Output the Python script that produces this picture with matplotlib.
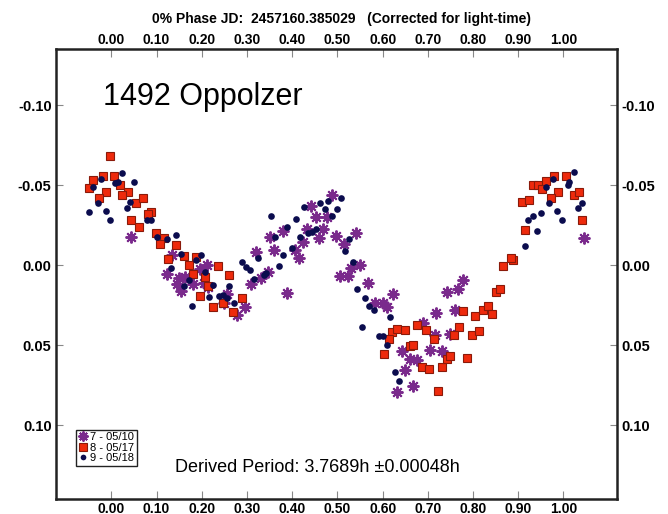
import matplotlib
matplotlib.use("Agg")
import matplotlib.pyplot as plt

plt.rcParams["font.family"] = ["Liberation Sans", "DejaVu Sans"]

# session 7 - 05/10 (phase, delta mag)
s7_phase = [0.043, 0.135, 0.123, 0.149, 0.163, 0.146, 0.153, 0.181, 0.196, 0.205,
            0.214, 0.255, 0.249, 0.295, 0.277, 0.310, 0.321, 0.211,
            0.487, 0.441, 0.452, 0.477, 0.432, 0.469, 0.379, 0.352, 0.497, 0.542,
            0.459, 0.424, 0.406, 0.515, 0.360, 0.415, 0.550, 0.531, 0.506, 0.523,
            0.347, 0.332, 0.388, 0.568, 0.623, 0.583, 0.601, 0.609, 0.719, 0.690,
            0.778, 0.767, 0.742, 0.760, 0.716, 0.749, 0.642, 0.660, 0.677, 0.705,
            0.731, 0.649, 0.668, 0.632, 1.045]
s7_mag = [-0.0173, -0.0063, 0.0056, 0.0083, 0.0073, 0.0119, 0.0163, 0.0119, 0.0021, 0.0111,
          0.0136, 0.0177, 0.0239, 0.0261, 0.0313, 0.0119, -0.0083, 0.0,
          -0.0438, -0.0369, -0.0302, -0.0302, -0.0223, -0.0223, -0.0214, -0.0173, -0.0183, -0.0198,
          -0.0167, -0.0146, -0.0098, -0.0131, -0.0094, -0.0042, 0.0, 0.0017, 0.0069, 0.0069,
          0.0042, 0.0083, 0.0173, 0.0114, 0.0177, 0.0236, 0.0236, 0.0261, 0.0298, 0.0364,
          0.0094, 0.0146, 0.0167, 0.0281, 0.0438, 0.0427, 0.0536, 0.0583, 0.0594, 0.0527,
          0.0536, 0.0656, 0.0756, 0.0792, -0.0171]

# session 8 - 05/17
s8_phase = [-0.002, -0.019, -0.040, -0.049, 0.006, 0.019, 0.036, 0.023, -0.012, -0.028,
            0.054, 0.070, 0.088, 0.080, 0.044, 0.062, 0.098, 0.117, 0.107, 0.143,
            0.125, 0.161, 0.171, 0.187, 0.180, 0.207, 0.236, 0.261, 0.213, 0.196,
            0.225, 0.288, 0.270, 0.247,
            0.867, 0.888, 0.851, 0.860, 0.778, 0.804, 0.823, 0.834, 0.841, 0.620,
            0.632, 0.649, 0.677, 0.696, 0.713, 0.614, 0.769, 0.758, 0.797, 0.813,
            0.660, 0.668, 0.604, 0.686, 0.703, 0.732, 0.742, 0.750, 0.786, 0.723,
            0.979, 1.006, 0.933, 0.944, 0.952, 0.961, 0.988, 0.972, 1.024, 1.035,
            0.908, 0.924, 1.042, 0.915, 0.885]
s8_mag = [-0.068, -0.056, -0.053, -0.048, -0.056, -0.050, -0.046, -0.044, -0.046, -0.042,
          -0.039, -0.042, -0.033, -0.032, -0.028, -0.024, -0.020, -0.017, -0.013, -0.0125,
          -0.0036, -0.0058, -0.0004, -0.005, 0.0052, 0.0073, 0.0004, 0.0063, 0.0129, 0.0192,
          0.0264, 0.0202, 0.0292, 0.0233,
          0.0004, -0.0031, 0.0167, 0.0146, 0.0286, 0.0317, 0.0281, 0.0256, 0.0306, 0.0417,
          0.040, 0.0406, 0.0375, 0.0406, 0.0463, 0.0463, 0.0389, 0.0438, 0.0438, 0.0413,
          0.0506, 0.0496, 0.0556, 0.0636, 0.0646, 0.0636, 0.0588, 0.0567, 0.0577, 0.0788,
          -0.0558, -0.0558, -0.050, -0.050, -0.0475, -0.0525, -0.0458, -0.0421, -0.0438, -0.0458,
          -0.0396, -0.0406, -0.0281, -0.0219, -0.0046]

# session 9 - 05/18
s9_phase = [0.023, 0.051, -0.022, -0.040, 0.008, 0.015, -0.030, -0.049, -0.012, -0.004,
            0.041, 0.034, 0.079, 0.087, 0.100, 0.123, 0.143, 0.153, 0.199, 0.188,
            0.132, 0.208, 0.171, 0.160, 0.225, 0.261, 0.217, 0.238, 0.246, 0.255,
            0.178, 0.272, 0.288, 0.298, 0.306, 0.316, 0.324,
            0.508, 0.480, 0.461, 0.472, 0.498, 0.426, 0.353, 0.408, 0.489, 0.452,
            0.443, 0.434, 0.388, 0.362, 0.417, 0.525, 0.517, 0.399, 0.380, 0.535,
            0.371, 0.343, 0.337, 0.544, 0.562, 0.570, 0.581, 0.616, 0.554,
            0.592, 0.600, 0.609, 0.627, 0.636,
            1.024, 0.977, 1.013, 1.010, 0.961, 0.969, 1.042, 1.031, 0.986, 0.950,
            0.932, 0.922, 0.996, 0.941, 0.915]
s9_mag = [-0.0577, -0.0521, -0.0536, -0.0489, -0.0511, -0.0521, -0.0389, -0.0333, -0.0338, -0.0281,
          -0.0396, -0.0358, -0.0281, -0.0281, -0.0173, -0.0161, -0.0188, -0.0069, -0.0063, -0.0031,
          0.0019, 0.0042, 0.0094, 0.0129, 0.0125, 0.0131, 0.0198, 0.0192, 0.0188, 0.0202,
          0.0254, 0.0236, -0.0021, 0.0011, 0.0031, 0.0089, -0.0048,
          -0.0421, -0.0402, -0.0389, -0.0348, -0.0348, -0.0361, -0.0308, -0.0288, -0.0308, -0.0223,
          -0.0208, -0.0198, -0.0239, -0.0177, -0.0177, -0.0161, -0.0089, -0.0108, -0.0061, -0.0021,
          0.0006, 0.0046, 0.0063, 0.015, 0.0202, 0.0256, 0.0281, 0.0323, 0.0386,
          0.0444, 0.0444, 0.0496, 0.0667, 0.0723,
          -0.0579, -0.0536, -0.0517, -0.050, -0.0489, -0.0389, -0.0389, -0.0358, -0.0339, -0.0329,
          -0.0308, -0.0281, -0.0281, -0.0213, -0.0119]

x_ticks = [0.0, 0.1, 0.2, 0.3, 0.4, 0.5, 0.6, 0.7, 0.8, 0.9, 1.0]
y_ticks = [-0.10, -0.05, 0.0, 0.05, 0.10]

fig = plt.figure(figsize=(6.68, 5.14), dpi=100)
ax = fig.add_axes([0.0834, 0.0292, 0.8407, 0.8745])

ax.plot(s7_phase, s7_mag, ls="none", marker=(8, 2, 0), ms=8.5, mew=1.4,
        color="#7a2a8c", label="7 - 05/10")
ax.plot(s8_phase, s8_mag, ls="none", marker="s", ms=6, mew=0.8,
        mfc="#ee2a0c", mec="#8a1a0a", label="8 - 05/17")
ax.plot(s9_phase, s9_mag, ls="none", marker="o", ms=4.8, mew=0,
        color="#0b0c4e", label="9 - 05/18")

ax.set_xlim(-0.123, 1.119)
ax.set_ylim(0.146, -0.1347)
ax.set_xticks(x_ticks)
ax.set_xticklabels(["%.2f" % t for t in x_ticks])
ax.set_yticks(y_ticks)
ax.set_yticklabels(["%.2f" % t for t in y_ticks])

ax.tick_params(axis="x", direction="in", top=True, labeltop=True, length=6,
               width=0.8, color="#888888", pad=3.5, labelsize=10)
ax.tick_params(axis="x", which="major", bottom=True, pad=2)
ax.tick_params(axis="y", direction="in", right=True, labelright=True, length=5,
               width=0.8, color="#888888", pad=3, labelsize=10.5)
for lab in ax.get_xticklabels() + ax.get_yticklabels():
    lab.set_fontweight("bold")

for sp in ax.spines.values():
    sp.set_linewidth(1.8)
    sp.set_color("#222222")

ax.text(0.084, 0.8765, "1492 Oppolzer", transform=ax.transAxes,
        fontsize=22, va="baseline", ha="left")
ax.text(0.2124, 0.060, "Derived Period: 3.7689h \u00b10.00048h", transform=ax.transAxes,
        fontsize=13, va="baseline", ha="left")
fig.text(0.5105, 0.963, "0% Phase JD:  2457160.385029   (Corrected for light-time)",
         ha="center", va="center", fontsize=10, fontweight="bold")

leg = ax.legend(loc="upper left", bbox_to_anchor=(0.036, 0.1535), borderaxespad=0,
                fontsize=8, fancybox=False, edgecolor="#222222", framealpha=1,
                handlelength=0.8, handletextpad=0.3, borderpad=0.2,
                labelspacing=0.05, markerscale=0.85)
leg.get_frame().set_linewidth(1.0)

fig.savefig("out.png", dpi=100)
